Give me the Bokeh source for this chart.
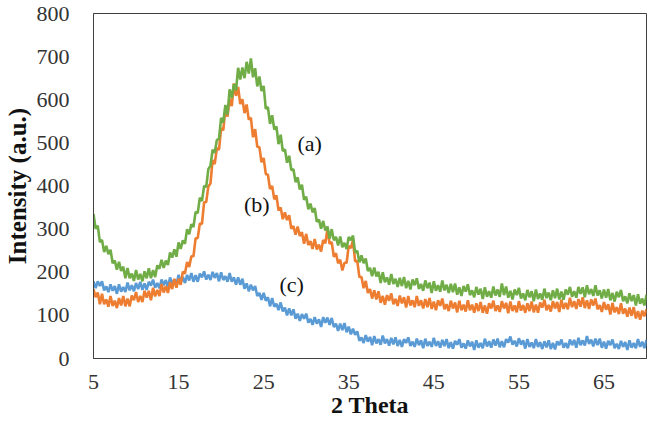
from bokeh.plotting import figure
from bokeh.models import Range1d, FixedTicker, ColumnDataSource, Label
from bokeh.embed import file_html
from bokeh.resources import INLINE

# 2-theta sampling positions (degrees), 0.25 degree steps
two_theta = [
    5, 5.25, 5.5, 5.75, 6, 6.25, 6.5, 6.75, 7, 7.25, 7.5, 7.75, 8, 8.25, 8.5, 8.75, 9, 9.25, 9.5, 9.75,
    10, 10.25, 10.5, 10.75, 11, 11.25, 11.5, 11.75, 12, 12.25, 12.5, 12.75, 13, 13.25, 13.5, 13.75, 14, 14.25, 14.5, 14.75,
    15, 15.25, 15.5, 15.75, 16, 16.25, 16.5, 16.75, 17, 17.25, 17.5, 17.75, 18, 18.25, 18.5, 18.75, 19, 19.25, 19.5, 19.75,
    20, 20.25, 20.5, 20.75, 21, 21.25, 21.5, 21.75, 22, 22.25, 22.5, 22.75, 23, 23.25, 23.5, 23.75, 24, 24.25, 24.5, 24.75,
    25, 25.25, 25.5, 25.75, 26, 26.25, 26.5, 26.75, 27, 27.25, 27.5, 27.75, 28, 28.25, 28.5, 28.75, 29, 29.25, 29.5, 29.75,
    30, 30.25, 30.5, 30.75, 31, 31.25, 31.5, 31.75, 32, 32.25, 32.5, 32.75, 33, 33.25, 33.5, 33.75, 34, 34.25, 34.5, 34.75,
    35, 35.25, 35.5, 35.75, 36, 36.25, 36.5, 36.75, 37, 37.25, 37.5, 37.75, 38, 38.25, 38.5, 38.75, 39, 39.25, 39.5, 39.75,
    40, 40.25, 40.5, 40.75, 41, 41.25, 41.5, 41.75, 42, 42.25, 42.5, 42.75, 43, 43.25, 43.5, 43.75, 44, 44.25, 44.5, 44.75,
    45, 45.25, 45.5, 45.75, 46, 46.25, 46.5, 46.75, 47, 47.25, 47.5, 47.75, 48, 48.25, 48.5, 48.75, 49, 49.25, 49.5, 49.75,
    50, 50.25, 50.5, 50.75, 51, 51.25, 51.5, 51.75, 52, 52.25, 52.5, 52.75, 53, 53.25, 53.5, 53.75, 54, 54.25, 54.5, 54.75,
    55, 55.25, 55.5, 55.75, 56, 56.25, 56.5, 56.75, 57, 57.25, 57.5, 57.75, 58, 58.25, 58.5, 58.75, 59, 59.25, 59.5, 59.75,
    60, 60.25, 60.5, 60.75, 61, 61.25, 61.5, 61.75, 62, 62.25, 62.5, 62.75, 63, 63.25, 63.5, 63.75, 64, 64.25, 64.5, 64.75,
    65, 65.25, 65.5, 65.75, 66, 66.25, 66.5, 66.75, 67, 67.25, 67.5, 67.75, 68, 68.25, 68.5, 68.75, 69, 69.25, 69.5, 69.75,
    70]

# (a) green trace
intensity_a = [
    335, 301, 308, 270, 275, 247, 261, 242, 252, 221, 227, 206, 224, 203, 213, 186, 210, 186, 197, 180,
    205, 183, 196, 179, 202, 186, 209, 186, 205, 189, 216, 208, 229, 210, 227, 217, 246, 234, 253, 236,
    269, 254, 274, 266, 300, 288, 311, 305, 340, 337, 373, 365, 400, 398, 439, 447, 484, 477, 507, 509,
    558, 547, 588, 566, 624, 604, 636, 622, 674, 647, 675, 650, 688, 661, 696, 652, 673, 631, 654, 620,
    632, 579, 583, 544, 564, 531, 538, 497, 519, 481, 485, 454, 470, 437, 439, 409, 420, 392, 403, 368,
    375, 346, 359, 339, 349, 317, 322, 301, 319, 297, 306, 278, 300, 274, 282, 262, 283, 258, 268, 254,
    282, 274, 285, 246, 250, 223, 239, 221, 232, 203, 210, 191, 211, 190, 201, 175, 200, 177, 188, 171,
    196, 173, 185, 166, 187, 168, 189, 163, 180, 160, 183, 170, 186, 161, 173, 157, 181, 163, 176, 152,
    179, 157, 170, 155, 181, 158, 171, 152, 173, 154, 174, 148, 165, 145, 168, 155, 172, 147, 158, 142,
    166, 148, 162, 138, 165, 143, 156, 141, 167, 146, 160, 143, 174, 147, 167, 141, 157, 137, 160, 147,
    164, 139, 151, 135, 159, 142, 156, 133, 160, 138, 151, 136, 162, 140, 153, 135, 158, 140, 162, 137,
    155, 136, 160, 148, 166, 143, 156, 141, 166, 150, 165, 142, 170, 149, 161, 145, 170, 146, 158, 139,
    160, 141, 161, 135, 152, 132, 155, 142, 159, 133, 144, 128, 151, 133, 147, 123, 149, 127, 139, 123,
    148]

# (b) orange trace
intensity_b = [
    161, 142, 153, 126, 150, 126, 137, 120, 145, 122, 134, 117, 140, 123, 145, 121, 139, 121, 146, 135,
    154, 131, 145, 131, 157, 141, 157, 135, 164, 144, 159, 145, 173, 153, 168, 152, 177, 161, 185, 164,
    185, 171, 201, 197, 224, 212, 237, 237, 279, 279, 313, 312, 362, 363, 399, 406, 460, 451, 488, 484,
    534, 529, 578, 561, 602, 585, 638, 609, 630, 590, 601, 569, 589, 554, 558, 513, 532, 491, 490, 455,
    465, 428, 426, 393, 400, 369, 378, 343, 350, 323, 339, 321, 332, 301, 307, 287, 306, 284, 293, 266,
    289, 263, 272, 254, 277, 253, 264, 248, 275, 267, 301, 266, 270, 236, 244, 221, 229, 204, 222, 222,
    261, 256, 274, 225, 227, 189, 189, 163, 180, 152, 161, 139, 158, 137, 156, 129, 145, 125, 147, 134,
    151, 126, 138, 122, 146, 128, 142, 118, 145, 123, 135, 119, 145, 122, 135, 116, 138, 119, 140, 115,
    132, 112, 135, 122, 139, 114, 126, 110, 134, 116, 130, 107, 134, 112, 125, 109, 135, 112, 125, 106,
    128, 110, 131, 106, 123, 104, 128, 116, 134, 110, 123, 108, 133, 116, 129, 105, 132, 110, 123, 107,
    133, 111, 124, 106, 128, 110, 132, 107, 125, 106, 130, 118, 136, 112, 124, 109, 133, 116, 131, 108,
    136, 115, 129, 114, 141, 119, 133, 115, 138, 120, 142, 117, 135, 115, 137, 123, 139, 114, 124, 108,
    131, 113, 126, 102, 129, 107, 119, 103, 128, 104, 116, 97, 118, 99, 119, 93, 110, 90, 111, 98,
    114]

# (c) blue trace
intensity_c = [
    179, 163, 179, 168, 179, 158, 167, 154, 172, 157, 168, 150, 172, 155, 166, 154, 176, 158, 170, 156,
    175, 161, 178, 159, 174, 159, 178, 169, 183, 164, 175, 163, 183, 170, 182, 165, 188, 172, 183, 172,
    194, 177, 189, 175, 194, 181, 198, 178, 193, 178, 197, 188, 202, 183, 194, 182, 201, 187, 198, 179,
    200, 182, 191, 178, 198, 178, 188, 171, 188, 171, 185, 162, 174, 156, 171, 158, 168, 145, 152, 136,
    152, 134, 142, 121, 140, 120, 127, 112, 130, 109, 118, 100, 116, 100, 114, 92, 104, 87, 103, 92,
    104, 83, 92, 78, 96, 81, 91, 73, 96, 83, 95, 78, 94, 73, 81, 64, 81, 66, 82, 61,
    74, 56, 69, 55, 63, 41, 49, 36, 54, 39, 50, 31, 52, 35, 45, 32, 53, 35, 45, 30,
    48, 33, 49, 29, 43, 27, 45, 36, 49, 29, 39, 27, 46, 31, 42, 24, 46, 29, 39, 27,
    48, 29, 40, 25, 43, 29, 45, 24, 38, 23, 41, 32, 45, 25, 35, 23, 42, 28, 39, 20,
    42, 25, 36, 24, 46, 28, 40, 25, 44, 30, 46, 26, 40, 26, 45, 37, 51, 32, 41, 28,
    47, 32, 42, 23, 45, 27, 37, 24, 45, 27, 38, 22, 40, 26, 42, 22, 36, 21, 40, 31,
    44, 25, 36, 24, 44, 31, 43, 25, 48, 31, 42, 30, 52, 34, 44, 28, 46, 31, 46, 25,
    39, 23, 41, 31, 44, 24, 34, 22, 41, 27, 38, 20, 42, 25, 36, 24, 45, 27, 39, 24,
    43]

x_ticks = [5, 15, 25, 35, 45, 55, 65]
y_ticks = [0, 100, 200, 300, 400, 500, 600, 700, 800]

curve_names = ["(a)", "(b)", "(c)"]
curve_label_x = [30.4, 24.2, 28.3]
curve_label_y = [498, 357, 171]

GREEN = "#70AD47"
ORANGE = "#ED7D31"
BLUE = "#5B9BD5"
SERIF = "Liberation Serif"

p = figure(width=648, height=420, output_backend="svg", toolbar_location=None,
           x_range=Range1d(5, 70), y_range=Range1d(0, 800),
           min_border_left=82, min_border_right=2, min_border_top=13, min_border_bottom=40)

src = ColumnDataSource(dict(x=two_theta, a=intensity_a, b=intensity_b, c=intensity_c))
p.line("x", "c", source=src, line_color=BLUE, line_width=2.6)
p.line("x", "b", source=src, line_color=ORANGE, line_width=2.6)
p.line("x", "a", source=src, line_color=GREEN, line_width=2.6)

for name, lx, ly in zip(curve_names, curve_label_x, curve_label_y):
    p.add_layout(Label(x=lx, y=ly, text=name, text_font=SERIF, text_font_size="22px",
                       text_color="#111111", text_align="center", text_baseline="middle"))

p.xgrid.visible = False
p.ygrid.visible = False
p.outline_line_color = "#404040"
p.outline_line_width = 1
p.background_fill_color = "white"
p.border_fill_color = "white"

p.xaxis.ticker = FixedTicker(ticks=x_ticks)
p.yaxis.ticker = FixedTicker(ticks=y_ticks)
for ax in (p.xaxis, p.yaxis):
    ax.major_tick_line_color = None
    ax.minor_tick_line_color = None
    ax.axis_line_color = "#404040"
    ax.major_label_text_font = SERIF
    ax.major_label_text_font_size = "22px"
    ax.major_label_text_color = "#333333"
    ax.axis_label_text_font = SERIF
    ax.axis_label_text_font_style = "bold"
    ax.axis_label_text_color = "#111111"

p.xaxis.axis_label = "2 Theta"
p.yaxis.axis_label = "Intensity (a.u.)"
p.xaxis.axis_label_text_font_size = "24px"
p.yaxis.axis_label_text_font_size = "25px"
p.xaxis.major_label_standoff = 10
p.yaxis.major_label_standoff = 18
p.xaxis.axis_label_standoff = 0
p.yaxis.axis_label_standoff = 3

open("out.html", "w").write(file_html(p, INLINE))
